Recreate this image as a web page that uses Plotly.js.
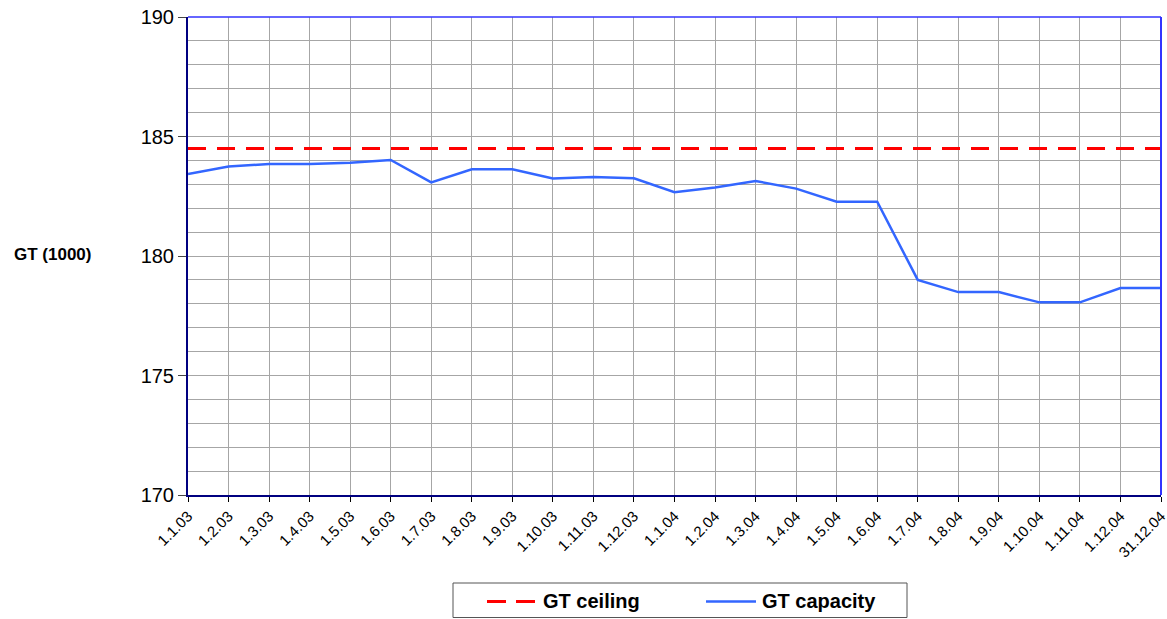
<!DOCTYPE html>
<html>
<head>
<meta charset="utf-8">
<script src="https://cdn.plot.ly/plotly-3.0.1.min.js"></script>
<style>html,body{margin:0;padding:0;background:#fff;}#chart{width:1167px;height:619px;}</style>
</head>
<body>
<div id="chart"></div>
<script>
const dates = ["1.1.03","1.2.03","1.3.03","1.4.03","1.5.03","1.6.03","1.7.03","1.8.03","1.9.03","1.10.03","1.11.03","1.12.03",
  "1.1.04","1.2.04","1.3.04","1.4.04","1.5.04","1.6.04","1.7.04","1.8.04","1.9.04","1.10.04","1.11.04","1.12.04","31.12.04"];
const gtCeiling = [184.5,184.5,184.5,184.5,184.5,184.5,184.5,184.5,184.5,184.5,184.5,184.5,
  184.5,184.5,184.5,184.5,184.5,184.5,184.5,184.5,184.5,184.5,184.5,184.5,184.5];
const gtCapacity = [183.43,183.74,183.85,183.85,183.9,184.02,183.08,183.63,183.63,183.24,183.31,183.25,
  182.67,182.87,183.14,182.82,182.27,182.27,179.0,178.49,178.49,178.06,178.06,178.66,178.66];
const seriesNames = ["GT ceiling", "GT capacity"];

const ceilingLine = {color: '#ff0000', width: 3, dash: '18px,11px'};
const capacityLine = {color: '#3366ff', width: 2.5};

const traces = [
  {x: dates, y: gtCeiling, type: 'scatter', mode: 'lines', name: seriesNames[0], line: ceilingLine},
  {x: dates, y: gtCapacity, type: 'scatter', mode: 'lines', name: seriesNames[1], line: capacityLine}
];

const W = 1167, H = 619;
const legendFont = {size: 20, family: 'Arial, "Liberation Sans", sans-serif', color: '#000'};

const layout = {
  width: W, height: H,
  margin: {l: 188, r: 6, t: 17, b: 124},
  paper_bgcolor: '#ffffff', plot_bgcolor: '#ffffff',
  font: {family: 'Arial, "Liberation Sans", sans-serif', color: '#000'},
  showlegend: false,
  xaxis: {type: 'category', range: [0, 24], showgrid: true, gridcolor: '#a6a6a6', gridwidth: 1,
    showline: true, linecolor: '#000080', linewidth: 1.5, automargin: false,
    ticks: 'outside', ticklen: 5, tickcolor: '#000', tickangle: -45,
    tickfont: {size: 15}, zeroline: false, fixedrange: true},
  yaxis: {range: [170, 190], dtick: 5, tick0: 170, showgrid: true, gridcolor: '#a6a6a6', gridwidth: 1,
    minor: {dtick: 1, showgrid: true, gridcolor: '#a6a6a6', gridwidth: 1},
    showline: true, linecolor: '#000080', linewidth: 2, automargin: false,
    ticks: 'outside', ticklen: 8, tickcolor: '#444', tickfont: {size: 20},
    zeroline: false, fixedrange: true},
  shapes: [
    {type: 'line', xref: 'paper', yref: 'paper', x0: 0, x1: 1, y0: 1, y1: 1, line: {color: '#3333ff', width: 1.5}},
    {type: 'line', xref: 'paper', yref: 'paper', x0: 1, x1: 1, y0: 0, y1: 1, line: {color: '#3333ff', width: 2}},
    {type: 'rect', xref: 'paper', yref: 'paper', layer: 'above',
     x0: (453 - 188) / 973, x1: (907 - 188) / 973, y0: -(617.5 - 495) / 478, y1: -(583 - 495) / 478,
     line: {color: '#555555', width: 1}, fillcolor: 'rgba(0,0,0,0)'},
    {type: 'line', xref: 'paper', yref: 'paper', x0: (487 - 188) / 973, x1: (535 - 188) / 973,
     y0: -(601.5 - 495) / 478, y1: -(601.5 - 495) / 478, line: {color: '#ff0000', width: 3, dash: '19px,10px'}},
    {type: 'line', xref: 'paper', yref: 'paper', x0: (706 - 188) / 973, x1: (756 - 188) / 973,
     y0: -(601.5 - 495) / 478, y1: -(601.5 - 495) / 478, line: {color: '#3366ff', width: 2.5}}
  ],
  annotations: [
    {text: '<b>GT (1000)</b>', xref: 'paper', yref: 'paper', x: (52.5 - 188) / 973, y: 1 - (254 - 17) / 478,
     xanchor: 'center', yanchor: 'middle', showarrow: false, font: {size: 17}},
    {text: '<b>' + seriesNames[0] + '</b>', xref: 'paper', yref: 'paper', x: (541 - 188) / 973, y: -(601 - 495) / 478,
     xanchor: 'left', yanchor: 'middle', showarrow: false, font: legendFont},
    {text: '<b>' + seriesNames[1] + '</b>', xref: 'paper', yref: 'paper', x: (760 - 188) / 973, y: -(601 - 495) / 478,
     xanchor: 'left', yanchor: 'middle', showarrow: false, font: legendFont}
  ]
};

Plotly.newPlot('chart', traces, layout, {displayModeBar: false, staticPlot: true});
</script>
</body>
</html>
